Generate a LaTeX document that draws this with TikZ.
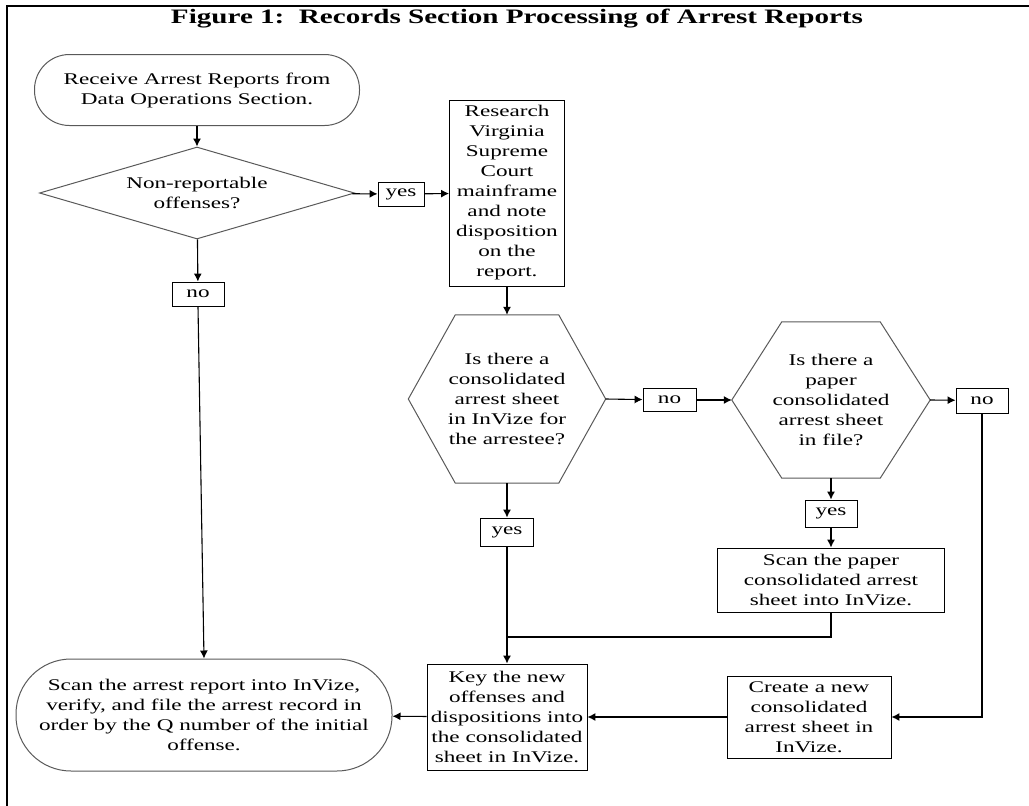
\documentclass[tikz,border=0pt]{standalone}
\usepackage{fontspec}
\setmainfont{Liberation Serif}[FakeStretch=1.42]
\usetikzlibrary{shapes.geometric,arrows.meta}

\newcommand{\bodyfont}{\fontsize{16.3}{20}\selectfont}
% outline of a six-sided decision, drawn round a plain node
\newcommand{\hexline}[2]{%
  \draw[draw=black!65, line width=1pt] (#1.west) -- ([xshift=#2]#1.north west) -- ([xshift=-#2]#1.north east)
    -- (#1.east) -- ([xshift=-#2]#1.south east) -- ([xshift=#2]#1.south west) -- cycle;}

\tikzset{
  terminal/.style={draw=black!65, line width=1pt, align=center, font=\bodyfont, inner sep=2pt},
  process/.style={draw, line width=0.9pt, align=center, font=\bodyfont, inner sep=2pt},
  answer/.style={draw, line width=0.9pt, font=\bodyfont, inner sep=0pt},
  decision/.style={diamond, aspect=3.4, draw=black!65, line width=1pt, align=center, font=\bodyfont, inner sep=0pt},
  hexa/.style={align=center, font=\bodyfont, inner sep=0pt},
  flow/.style={line width=1.1pt, -{Latex[length=8pt,width=8pt]}},
  link/.style={line width=1.1pt},
}

\begin{document}
\begin{tikzpicture}[x=1pt, y=-1pt]
	\useasboundingbox (0,0) rectangle (1029,806);
	\draw[line width=2.5pt] (7,806) -- (7,6) -- (1029,6);

	\node[font=\fontsize{20.5}{24}\selectfont\bfseries] (title) at (517,19) {Figure 1:\ \ Records Section Processing of Arrest Reports};

	% left column
	\node[terminal, minimum width=325, minimum height=71, rounded corners=35] (receive) at (197,90) {Receive Arrest Reports from\\Data Operations Section.};
	\node[decision, minimum width=315, minimum height=92] (nonrep) at (197,193) {Non-reportable\\offenses?};
	\node[answer, minimum width=52, minimum height=24] (noA) at (198,294) {no};
	\node[terminal, minimum width=376, minimum height=112, rounded corners=55] (scanrep) at (204,715) {Scan the arrest report into InVize,\\verify, and file the arrest record in\\order by the Q number of the initial\\offense.};

	% middle column
	\node[answer, minimum width=46, minimum height=24] (yesA) at (401,194) {yes};
	\node[process, minimum width=115, minimum height=186] (research) at (507,193) {Research\\Virginia\\Supreme\\Court\\mainframe\\and note\\disposition\\on the\\report.};
	\node[hexa, minimum width=197, minimum height=168] (hexA) at (507,399) {Is there a\\consolidated\\arrest sheet\\in InVize for\\the arrestee?};
	\hexline{hexA}{47}
	\node[answer, minimum width=53, minimum height=28] (yesB) at (507,532) {yes};
	\node[process, minimum width=160, minimum height=106] (key) at (507,717) {Key the new\\offenses and\\dispositions into\\the consolidated\\sheet in InVize.};

	% right column
	\node[answer, minimum width=53, minimum height=23] (noB) at (669.5,400) {no};
	\node[hexa, minimum width=198, minimum height=156] (hexB) at (831,400) {Is there a\\paper\\consolidated\\arrest sheet\\in file?};
	\hexline{hexB}{50}
	\node[answer, minimum width=52, minimum height=27] (yesC) at (831,513.5) {yes};
	\node[process, minimum width=227, minimum height=64] (scanpaper) at (831,580) {Scan the paper\\consolidated arrest\\sheet into InVize.};
	\node[answer, minimum width=52, minimum height=25] (noC) at (982,400.5) {no};
	\node[process, minimum width=164, minimum height=82] (create) at (809,717) {Create a new\\consolidated\\arrest sheet in\\InVize.};
	\coordinate (merge) at (507,637);

	% connectors
	\draw[flow] (receive) -- (nonrep);
	\draw[flow] (nonrep) -- (yesA);
	\draw[flow] (yesA) -- (research);
	\draw[flow] (nonrep) -- (noA);
	\draw[flow] (noA.south) -- (scanrep.north);
	\draw[flow] (research) -- (hexA);
	\draw[flow] (hexA.east) -- (noB);
	\draw[flow] (noB) -- (hexB.west);
	\draw[flow] (hexB.east) -- (noC);
	\draw[flow] (hexA.south) -- (yesB);
	\draw[flow] (yesB) -- (key);
	\draw[flow] (hexB.south) -- (yesC);
	\draw[flow] (yesC) -- (scanpaper);
	\draw[link] (scanpaper.south) |- (merge);
	\draw[flow] (noC.south) |- (create.east);
	\draw[flow] (create) -- (key);
	\draw[flow] (key) -- (scanrep);
\end{tikzpicture}
\end{document}
